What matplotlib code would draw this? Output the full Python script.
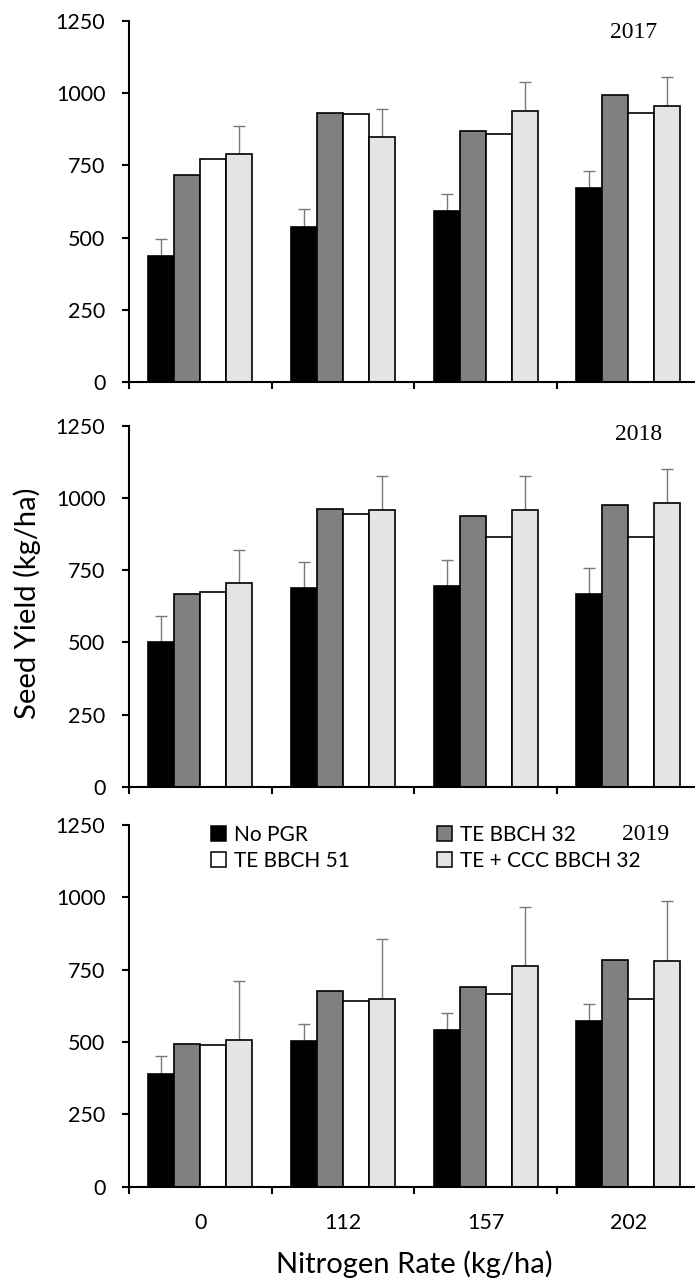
import matplotlib
matplotlib.use("Agg")
import matplotlib.pyplot as plt
from matplotlib.patches import Patch
import numpy as np

# Nitrogen rates (kg/ha) and PGR treatments
n_rates = ["0", "112", "157", "202"]
treatments = ["No PGR", "TE BBCH 32", "TE BBCH 51", "TE + CCC BBCH 32"]
years = ["2017", "2018", "2019"]

# Seed yield (kg/ha) per year, per treatment, per nitrogen rate
yield_2017_no_pgr = [436, 538, 592, 672]
yield_2017_te32 = [717, 930, 869, 993]
yield_2017_te51 = [772, 927, 857, 933]
yield_2017_teccc = [789, 849, 937, 957]

yield_2018_no_pgr = [501, 688, 695, 667]
yield_2018_te32 = [667, 963, 938, 974]
yield_2018_te51 = [674, 943, 863, 866]
yield_2018_teccc = [704, 957, 957, 981]

yield_2019_no_pgr = [390, 503, 541, 573]
yield_2019_te32 = [493, 676, 690, 784]
yield_2019_te51 = [489, 640, 667, 648]
yield_2019_teccc = [507, 648, 761, 780]

# Upper error bars (kg/ha), shown for No PGR and TE + CCC only
err_2017_no_pgr = [60, 60, 60, 60]
err_2017_teccc = [97, 97, 102, 98]
err_2018_no_pgr = [90, 91, 90, 91]
err_2018_teccc = [117, 118, 118, 118]
err_2019_no_pgr = [60, 59, 60, 59]
err_2019_teccc = [202, 206, 204, 208]

panels = [
    (years[0], [yield_2017_no_pgr, yield_2017_te32, yield_2017_te51, yield_2017_teccc],
     err_2017_no_pgr, err_2017_teccc),
    (years[1], [yield_2018_no_pgr, yield_2018_te32, yield_2018_te51, yield_2018_teccc],
     err_2018_no_pgr, err_2018_teccc),
    (years[2], [yield_2019_no_pgr, yield_2019_te32, yield_2019_te51, yield_2019_teccc],
     err_2019_no_pgr, err_2019_teccc),
]

fills = ["#000000", "#808080", "#ffffff", "#e4e4e4"]
err_color = "#7a7a7a"
sans = ["Lato", "DejaVu Sans"]
serif = ["Liberation Serif", "DejaVu Serif"]

W, H = 695, 1278
fig = plt.figure(figsize=(W / 100, H / 100), dpi=100)

left_px, right_px = 129, 699.5
panel_px = [(21, 382), (425.7, 786.7), (824.7, 1186.7)]
year_pos = [(634, 33), (639, 435), (646, 835)]

bar_w = 0.1825
centers = np.arange(len(n_rates)) + 0.5
offsets = (np.arange(4) - 1.5) * bar_w

for i, (yr, series, e_black, e_light) in enumerate(panels):
    top, bot = panel_px[i]
    ax = fig.add_axes([left_px / W, 1 - bot / H, (right_px - left_px) / W, (bot - top) / H])
    for k, vals in enumerate(series):
        ax.bar(centers + offsets[k], vals, width=bar_w, color=fills[k],
               edgecolor="black", linewidth=1.2, zorder=2)
    for k, vals, err in [(0, series[0], e_black), (3, series[3], e_light)]:
        ax.errorbar(centers + offsets[k], vals, yerr=[np.zeros(len(err)), err],
                    fmt="none", ecolor=err_color, elinewidth=1.0, capsize=4.5,
                    capthick=1.0, zorder=1)

    ax.set_xlim(0, 4)
    ax.set_ylim(0, 1250)
    ax.set_yticks([0, 250, 500, 750, 1000, 1250])
    ax.set_xticks([0, 1, 2, 3, 4])
    ax.set_xticklabels([])
    for s in ["top", "right"]:
        ax.spines[s].set_visible(False)
    for s in ["left", "bottom"]:
        ax.spines[s].set_linewidth(1.5)
    ax.tick_params(axis="both", which="major", direction="out", length=5, width=1.5)
    ax.tick_params(axis="y", pad=12, labelsize=15.5)
    for lbl in ax.get_yticklabels():
        lbl.set_family(sans)

    if i == 2:
        ax.set_xticks(centers, minor=True)
        ax.set_xticklabels(n_rates, minor=True, fontsize=15.5, family=sans)
        ax.tick_params(axis="x", which="minor", length=0, pad=19)
        order = [0, 2, 1, 3]
        handles = [Patch(facecolor=fills[j], edgecolor="black", linewidth=1.1) for j in order]
        labels = [treatments[j] for j in order]
        ax.legend(handles, labels, ncol=2, frameon=False, loc="upper left",
                  bbox_to_anchor=((211 - left_px) / (right_px - left_px), 1.0),
                  prop={"family": sans, "size": 15}, handlelength=0.7, handleheight=0.7,
                  handletextpad=0.4, columnspacing=4.2, labelspacing=0.3, borderpad=0.0,
                  borderaxespad=0.0)

    yx, yy = year_pos[i]
    fig.text(yx / W, 1 - yy / H, yr, ha="center", va="center", fontsize=17, family=serif)

fig.text(27.5 / W, 1 - 603 / H, "Seed Yield (kg/ha)", rotation=90, ha="center",
         va="center", fontsize=21, family=sans)
fig.text(414 / W, 1 - 1264 / H, "Nitrogen Rate (kg/ha)", ha="center", va="center",
         fontsize=21, family=sans)

fig.savefig("out.png", dpi=100)
